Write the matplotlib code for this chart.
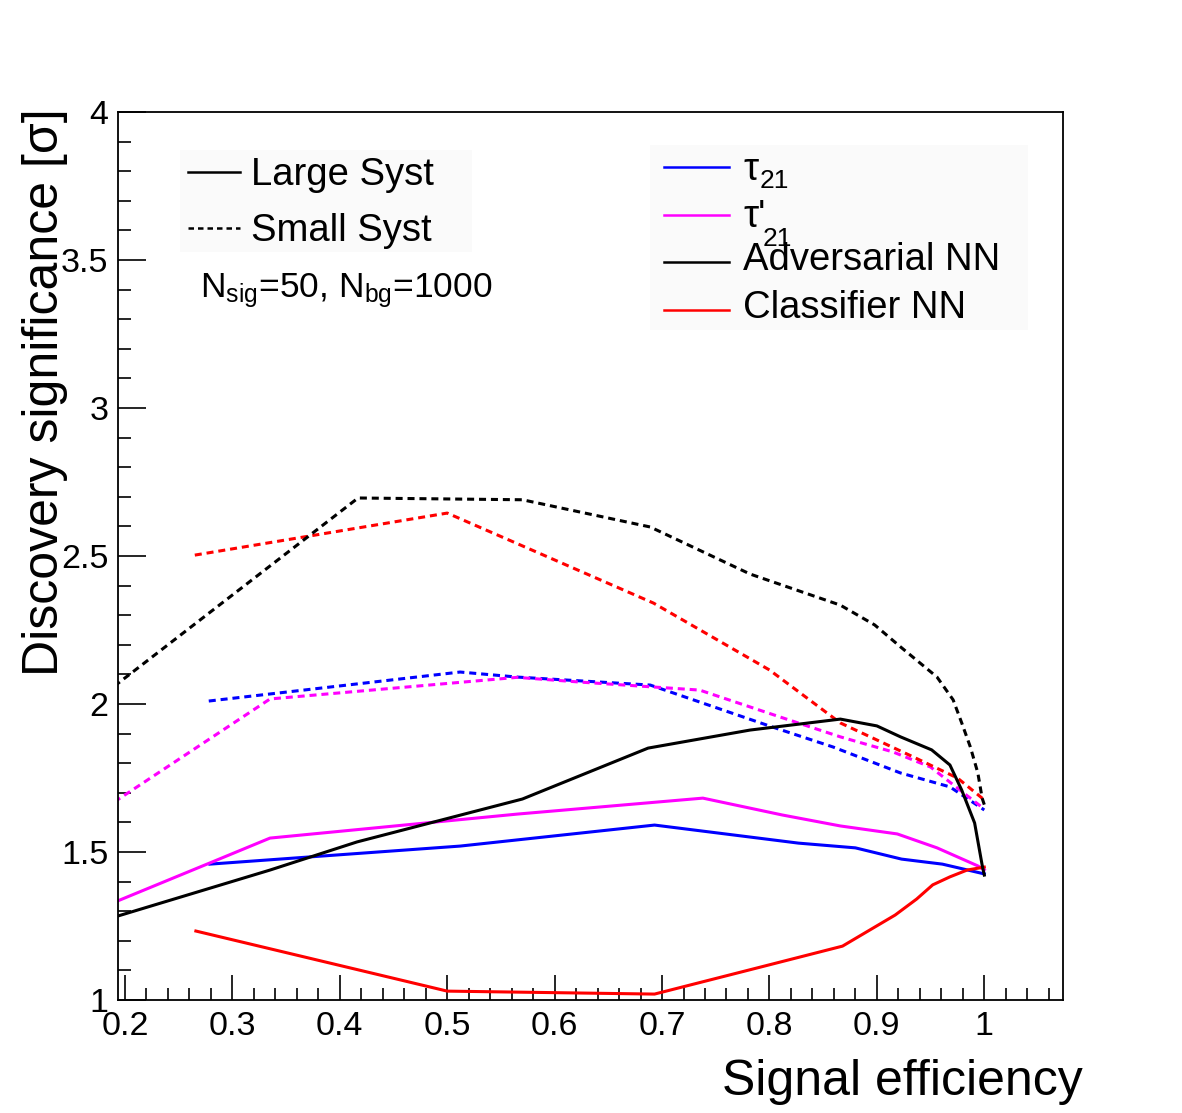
import matplotlib
matplotlib.use("Agg")
import matplotlib.pyplot as plt
from matplotlib.lines import Line2D
from matplotlib.patches import Rectangle
from matplotlib.ticker import MultipleLocator, FormatStrFormatter

plt.rcParams['font.family'] = ['Liberation Sans', 'DejaVu Sans']
plt.rcParams['mathtext.fontset'] = 'custom'
plt.rcParams['mathtext.rm'] = 'Liberation Sans'
plt.rcParams['mathtext.it'] = 'Liberation Sans:italic'

# Large systematics (solid)
adv_large_x = [0.19, 0.335, 0.416, 0.570, 0.687, 0.782, 0.866, 0.900, 0.922, 0.951, 0.968, 0.979, 0.991, 0.998, 1.0]
adv_large_y = [1.28, 1.439, 1.534, 1.679, 1.851, 1.912, 1.949, 1.926, 1.889, 1.845, 1.794, 1.709, 1.598, 1.456, 1.422]
clf_large_x = [0.266, 0.500, 0.693, 0.799, 0.868, 0.917, 0.937, 0.952, 0.968, 0.984, 1.0]
clf_large_y = [1.233, 1.030, 1.020, 1.118, 1.182, 1.287, 1.341, 1.389, 1.416, 1.439, 1.449]
tau_large_x = [0.279, 0.512, 0.693, 0.827, 0.880, 0.923, 0.961, 1.0]
tau_large_y = [1.459, 1.520, 1.591, 1.530, 1.514, 1.476, 1.459, 1.426]
taup_large_x = [0.19, 0.279, 0.335, 0.565, 0.738, 0.812, 0.866, 0.919, 0.956, 0.994, 1.0]
taup_large_y = [1.33, 1.463, 1.547, 1.628, 1.682, 1.625, 1.588, 1.561, 1.514, 1.453, 1.44]

# Small systematics (dashed)
adv_small_x = [0.19, 0.417, 0.570, 0.689, 0.782, 0.866, 0.898, 0.922, 0.956, 0.971, 0.979, 0.987, 0.994, 0.998, 1.0]
adv_small_y = [2.06, 2.696, 2.690, 2.598, 2.439, 2.334, 2.267, 2.193, 2.091, 2.014, 1.936, 1.855, 1.767, 1.682, 1.66]
clf_small_x = [0.265, 0.500, 0.692, 0.800, 0.866, 0.934, 0.975, 1.0]
clf_small_y = [2.503, 2.645, 2.341, 2.115, 1.936, 1.821, 1.750, 1.676]
tau_small_x = [0.278, 0.512, 0.565, 0.689, 0.803, 0.859, 0.922, 0.968, 1.0]
tau_small_y = [2.010, 2.108, 2.091, 2.064, 1.922, 1.855, 1.767, 1.72, 1.642]
taup_small_x = [0.19, 0.335, 0.565, 0.624, 0.735, 0.810, 0.866, 0.915, 0.950, 1.0]
taup_small_y = [1.669, 2.017, 2.090, 2.074, 2.047, 1.956, 1.889, 1.838, 1.787, 1.645]

W, H = 1182, 1113
fig = plt.figure(figsize=(W / 100, H / 100), dpi=100)
ax = fig.add_axes([118 / W, 1 - 1000 / H, (1062.7 - 118) / W, (1000 - 112) / H])

lw = 2.2
dash = (0, (2.3, 1.6))
ax.plot(tau_small_x, tau_small_y, color='blue', lw=lw, ls=dash)
ax.plot(taup_small_x, taup_small_y, color='magenta', lw=lw, ls=dash)
ax.plot(clf_small_x, clf_small_y, color='red', lw=lw, ls=dash)
ax.plot(adv_small_x, adv_small_y, color='black', lw=lw, ls=dash)
ax.plot(tau_large_x, tau_large_y, color='blue', lw=lw)
ax.plot(taup_large_x, taup_large_y, color='magenta', lw=lw)
ax.plot(clf_large_x, clf_large_y, color='red', lw=lw)
ax.plot(adv_large_x, adv_large_y, color='black', lw=lw)

ax.set_xlim(0.1935, 1.073)
ax.set_ylim(1, 4)
ax.xaxis.set_major_locator(MultipleLocator(0.1))
ax.xaxis.set_minor_locator(MultipleLocator(0.02))
ax.yaxis.set_major_locator(MultipleLocator(0.5))
ax.yaxis.set_minor_locator(MultipleLocator(0.1))
ax.xaxis.set_major_formatter(FormatStrFormatter('%g'))
ax.yaxis.set_major_formatter(FormatStrFormatter('%g'))
ax.tick_params(which='both', direction='in', top=False, right=False, width=1.2, labelsize=24.5)
ax.tick_params(axis='x', which='major', length=18, pad=8)
ax.tick_params(axis='x', which='minor', length=9)
ax.tick_params(axis='y', which='major', length=20, pad=7)
ax.tick_params(axis='y', which='minor', length=9.5)
for s in ax.spines.values():
    s.set_linewidth(1.3)

# axis titles
fig.text(45 / W, 1 - 108 / H, 'Discovery significance [σ]', rotation=90,
         ha='center', va='top', fontsize=36)
fig.text(1083 / W, 1 - 1095 / H, 'Signal efficiency', ha='right', va='baseline', fontsize=36)

def px(x, y):
    return x / W, 1 - y / H

# legend boxes
fig.patches.append(Rectangle(px(180, 252), 292 / W, 102 / H, transform=fig.transFigure,
                             facecolor='#fafafa', edgecolor='none', zorder=0))
fig.patches.append(Rectangle(px(650, 330), 378 / W, 185 / H, transform=fig.transFigure,
                             facecolor='#fafafa', edgecolor='none', zorder=0))

# systematics legend
fs = 27.5
fig.lines.append(Line2D([188 / W, 240 / W], [1 - 172 / H] * 2, color='black', lw=1.8,
                        transform=fig.transFigure))
fig.lines.append(Line2D([188 / W, 240 / W], [1 - 228 / H] * 2, color='black', lw=1.8,
                        ls=(0, (2.2, 1.6)), transform=fig.transFigure))
fig.text(*px(251, 185), 'Large Syst', fontsize=fs, va='baseline')
fig.text(*px(251, 241), 'Small Syst', fontsize=fs, va='baseline')
fig.text(*px(200, 297), r'N$_{\mathregular{sig}}$=50, N$_{\mathregular{bg}}$=1000',
         fontsize=25.5, va='baseline')

# method legend
names = ['τ', "τ'", 'Adversarial NN', 'Classifier NN']
colors = ['blue', 'magenta', 'black', 'red']
line_y = [167, 215, 262, 310]
text_y = [180, 227, 270, 318]
for nm, c, ly, ty in zip(names, colors, line_y, text_y):
    fig.lines.append(Line2D([664 / W, 729 / W], [1 - ly / H] * 2, color=c, lw=1.8,
                            transform=fig.transFigure))
    fig.text(*px(743, ty), nm, fontsize=fs, va='baseline')
fig.text(*px(760, 188), '21', fontsize=19, va='baseline')
fig.text(*px(763, 246), '21', fontsize=19, va='baseline')

fig.savefig('out.png', dpi=100)
